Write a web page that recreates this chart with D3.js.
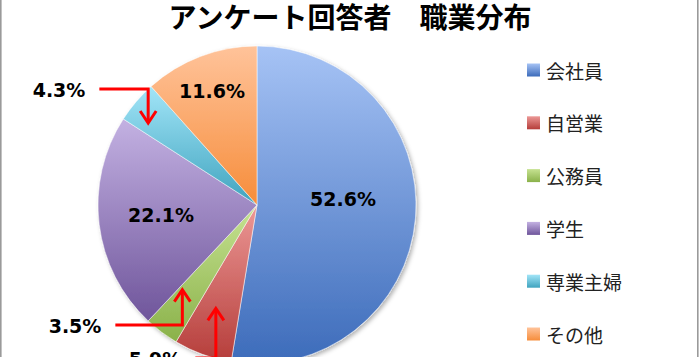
<!DOCTYPE html>
<html><head><meta charset="utf-8">
<script src="https://cdn.jsdelivr.net/npm/d3@7"></script>
<style>html,body{margin:0;padding:0;background:#fff;overflow:hidden}</style>
</head><body>
<svg id="c" width="700" height="357"></svg>
<script>
const title = "アンケート回答者　職業分布";
const categories = ["会社員", "自営業", "公務員", "学生", "専業主婦", "その他"];
const values = [52.6, 5.9, 3.5, 22.1, 4.3, 11.6];
const labels = ["52.6%", "5.9%", "3.5%", "22.1%", "4.3%", "11.6%"];
const baseColors = ["#3C6BBA", "#B53D3A", "#8AB14A", "#6F559B", "#3FA3BE", "#F68D3B"];
const lightColors = ["#A6C3F5", "#EC9896", "#C6E291", "#C3B1E2", "#A2E5F8", "#FFC39A"];

// layout (pixels, relative to pie centre)
const labelOffsets = [[86,-6],[-102,154],[-182,121],[-96,10],[-198,-115],[-45,-114]];
const arrowTips = [null,[201.7,0.70],[221.4,0.71],null,[307,0.857],null]; // [deg, r-fraction]

const svg = d3.select("#c");
const W = 700, H = 357, cx = 257, cy = 205, R = 159;
const defs = svg.append("defs");

categories.forEach((c,i)=>{
  const g = defs.append("linearGradient").attr("id","g"+i).attr("x1",0).attr("y1",0).attr("x2",0).attr("y2",1);
  g.append("stop").attr("offset","0%").attr("stop-color",lightColors[i]);
  g.append("stop").attr("offset","100%").attr("stop-color",baseColors[i]);
});
const f = defs.append("filter").attr("id","sh").attr("x","-10%").attr("y","-10%").attr("width","130%").attr("height","130%");
f.append("feDropShadow").attr("dx",2).attr("dy",2).attr("stdDeviation",2).attr("flood-color","#000").attr("flood-opacity",0.3);

// chart border
svg.append("rect").attr("x",0.8).attr("y",-10).attr("width",697).attr("height",H+20)
  .attr("fill","none").attr("stroke","#9a9a9a").attr("stroke-width",1.6);

svg.append("text").attr("x",350).attr("y",16).attr("text-anchor","middle").attr("dominant-baseline","central")
  .attr("font-family","'Noto Sans CJK JP'").attr("font-weight","bold").attr("font-size",28).attr("fill","#000")
  .text(title);

const pie = d3.pie().sort(null).value(d=>d)(values);
const arc = d3.arc().innerRadius(0).outerRadius(R);
const gp = svg.append("g").attr("transform",`translate(${cx},${cy})`);
gp.append("g").attr("filter","url(#sh)").selectAll("path").data(pie).join("path")
  .attr("d",arc).attr("fill",(d,i)=>`url(#g${i})`)
  .attr("stroke","#ffffff").attr("stroke-opacity",0.5).attr("stroke-width",1);

// labels
const lab = gp.selectAll("text.l").data(pie).join("text").attr("class","l")
  .attr("x",(d,i)=>labelOffsets[i][0]).attr("y",(d,i)=>labelOffsets[i][1])
  .attr("text-anchor","middle").attr("dominant-baseline","central")
  .attr("font-family","'DejaVu Sans'").attr("font-weight","bold").attr("font-size",19).attr("fill","#000")
  .text((d,i)=>labels[i]);

// leader arrows
pie.forEach((d,i)=>{
  const t = arrowTips[i]; if(!t) return;
  const a = t[0]*Math.PI/180, r = t[1]*R;
  const tx = r*Math.sin(a), ty = -r*Math.cos(a);
  const lb = lab.nodes()[i].getBBox();
  const sx = lb.x+lb.width+14, sy = labelOffsets[i][1]-1;
  const dir = ty < sy ? -1 : 1;
  gp.append("polyline").attr("points",`${sx},${sy} ${tx},${sy} ${tx},${ty-dir*1}`)
    .attr("fill","none").attr("stroke","#FF0000").attr("stroke-width",3);
  gp.append("polyline").attr("points",`${tx-8},${ty-dir*12} ${tx},${ty} ${tx+8},${ty-dir*12}`)
    .attr("fill","none").attr("stroke","#FF0000").attr("stroke-width",3).attr("stroke-linejoin","miter");
});

// legend
const lg = svg.append("g").attr("transform","translate(527,70)");
const row = lg.selectAll("g").data(categories).join("g").attr("transform",(d,i)=>`translate(0,${i*52.8})`);
row.append("rect").attr("x",0).attr("y",-6.5).attr("width",13).attr("height",13).attr("fill",(d,i)=>`url(#g${i})`);
row.append("text").attr("x",19).attr("y",0).attr("dominant-baseline","central")
  .attr("font-family","'Noto Sans CJK JP'").attr("font-size",19).attr("fill","#222").text(d=>d);
</script>
</body></html>
